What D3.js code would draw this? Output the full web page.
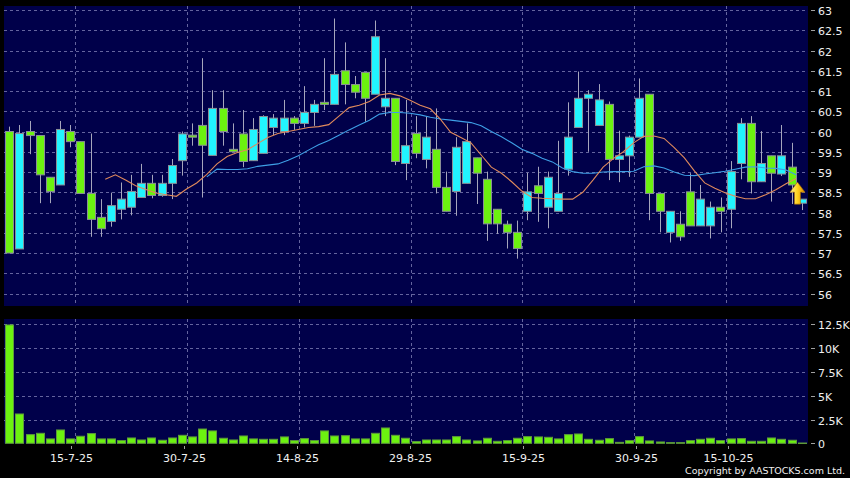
<!DOCTYPE html>
<html><head><meta charset="utf-8">
<script src="https://cdn.jsdelivr.net/npm/d3@7"></script>
<style>
html,body{margin:0;padding:0;background:#000;}
svg{display:block;}
text{font-family:"DejaVu Sans",Verdana,sans-serif;}
</style></head><body>
<svg id="c" width="850" height="478"></svg>
<script>
// ---------- DATA ----------
const dates = ["7-7-25","8-7-25","9-7-25","10-7-25","11-7-25","14-7-25","15-7-25","16-7-25","17-7-25","18-7-25",
"21-7-25","22-7-25","23-7-25","24-7-25","25-7-25","28-7-25","29-7-25","30-7-25","31-7-25","1-8-25",
"4-8-25","5-8-25","6-8-25","7-8-25","8-8-25","11-8-25","12-8-25","13-8-25","14-8-25","15-8-25",
"18-8-25","19-8-25","20-8-25","21-8-25","22-8-25","25-8-25","26-8-25","27-8-25","28-8-25","29-8-25",
"1-9-25","2-9-25","3-9-25","4-9-25","5-9-25","8-9-25","9-9-25","10-9-25","11-9-25","12-9-25",
"15-9-25","16-9-25","17-9-25","18-9-25","19-9-25","22-9-25","23-9-25","24-9-25","25-9-25","26-9-25",
"29-9-25","30-9-25","2-10-25","3-10-25","6-10-25","8-10-25","9-10-25","10-10-25","13-10-25","14-10-25",
"15-10-25","16-10-25","17-10-25","20-10-25","21-10-25","22-10-25","23-10-25","24-10-25","27-10-25"];

const openP  = [60.0,57.1,60.0,59.9,58.87,58.68,60.0,59.75,58.47,57.88,
57.78,58.08,58.13,58.37,58.72,58.42,58.72,59.28,59.91,60.15,
59.41,60.57,59.56,59.94,59.28,59.46,60.1,60.0,60.33,60.2,
60.47,60.72,60.67,61.5,61.16,61.46,60.92,60.61,60.82,59.21,
59.95,59.31,59.56,58.62,58.52,58.72,59.35,58.82,58.08,57.71,
57.51,58.03,58.66,58.13,58.03,59.07,60.1,60.82,60.15,60.67,
59.31,59.4,59.86,60.92,58.47,57.51,57.71,58.51,57.67,57.67,
58.13,58.08,59.21,60.2,58.76,59.4,58.95,59.12,58.23];
const highP  = [60.12,60.16,60.26,59.9,58.87,60.26,60.16,59.75,59.95,58.33,
58.49,58.74,58.93,59.2,58.93,58.93,59.32,60.0,60.2,61.81,
61.02,61.02,60.2,60.53,60.33,60.4,60.43,60.78,60.38,61.12,
60.78,61.81,62.79,62.2,61.37,61.46,62.74,61.81,60.82,60.78,
60.38,60.38,60.57,59.01,59.86,60.2,59.35,59.01,58.08,57.8,
57.8,58.98,59.13,59.01,59.77,60.72,61.48,61.02,61.17,60.74,
60.02,59.9,61.31,60.92,58.47,58.03,58.03,58.97,58.68,58.27,
58.37,59.27,60.33,60.38,60.01,59.4,60.16,59.72,58.33];
const lowP   = [57.0,57.1,59.44,58.23,58.23,58.68,59.61,58.47,57.4,57.4,
57.65,57.83,57.93,58.37,58.35,58.39,58.33,58.91,59.65,58.37,
59.41,59.65,59.5,59.12,59.28,59.46,59.91,59.91,60.04,60.1,
60.14,60.53,60.67,60.67,60.82,60.24,60.92,60.38,59.17,58.8,
59.34,59.09,58.47,58.03,57.92,58.72,58.21,57.3,57.47,57.11,
56.86,57.81,57.77,57.61,58.03,58.91,60.1,59.5,60.15,58.8,
58.75,58.88,59.86,57.81,57.51,57.26,57.3,57.67,57.67,57.36,
57.51,57.61,58.82,58.47,58.76,58.27,58.9,58.21,58.06];
const closeP = [57.0,59.95,59.9,58.93,58.52,60.05,59.75,58.47,57.83,57.6,
58.17,58.33,58.52,58.72,58.42,58.72,59.16,59.94,59.86,59.66,
60.57,60.0,59.5,59.26,60.05,60.37,60.33,60.33,60.2,60.47,
60.67,60.67,61.41,61.16,60.97,60.82,62.34,60.82,59.26,59.65,
59.46,59.86,58.62,58.03,59.61,59.75,58.97,57.72,57.72,57.51,
57.11,58.51,58.47,58.87,58.47,59.86,60.82,60.92,60.78,59.31,
59.4,59.86,60.82,58.47,58.03,58.03,57.4,57.67,58.33,58.13,
58.03,59.01,60.2,58.76,59.21,58.97,59.4,58.68,58.33];
const volume = [12430,3080,910,1050,460,1400,460,740,1020,460,
460,280,560,350,560,320,560,840,670,1500,
1300,530,350,770,460,420,420,670,280,490,
280,1300,770,800,460,460,1050,1610,840,530,
180,350,350,350,700,350,250,530,210,280,
530,700,670,630,460,910,980,420,320,490,
100,280,700,250,140,70,70,280,420,530,
280,460,490,210,210,560,420,320,30];
// 10-day average line (orange), first point at index 9
const ma10Start = 9;
const ma10 = [58.82,58.93,58.8,58.66,58.57,58.48,58.44,58.4,58.58,58.73,
58.94,59.2,59.38,59.48,59.55,59.7,59.85,59.95,60.0,60.05,
60.1,60.12,60.17,60.38,60.59,60.65,60.74,60.9,60.94,60.88,
60.77,60.65,60.56,60.3,59.98,59.85,59.72,59.42,59.12,58.97,
58.76,58.53,58.37,58.35,58.34,58.33,58.33,58.5,58.8,59.12,
59.33,59.5,59.72,59.88,59.89,59.83,59.6,59.35,59.02,58.73,
58.6,58.49,58.4,58.34,58.34,58.44,58.56,58.71,58.84];
// 20-day average line (blue), first point at index 19
const ma20Start = 19;
const ma20 = [58.88,59.07,59.06,59.06,59.08,59.14,59.17,59.2,59.29,59.4,
59.54,59.67,59.78,59.91,60.04,60.16,60.28,60.43,60.47,60.47,
60.45,60.41,60.35,60.31,60.28,60.25,60.22,60.14,60.0,59.87,
59.72,59.56,59.46,59.34,59.25,59.1,59.01,58.97,58.97,59.0,
59.01,59.01,59.02,59.13,59.15,59.1,59.0,58.92,58.91,58.95,
58.98,59.02,59.07,59.12,59.13,59.1,59.09,59.05,58.93];
const xTickLabels = ["15-7-25","30-7-25","14-8-25","29-8-25","15-9-25","30-9-25","15-10-25"];
const priceTickValues = [56,56.5,57,57.5,58,58.5,59,59.5,60,60.5,61,61.5,62,62.5,63];
const priceTickLabels = ["56","56.5","57","57.5","58","58.5","59","59.5","60","60.5","61","61.5","62","62.5","63"];
const volTickValues = [0,2500,5000,7500,10000,12500];
const volTickLabels = ["0","2.5K","5K","7.5K","10K","12.5K"];
const arrowMark = {index: 77, value: 58.75};

// ---------- LAYOUT ----------
const W = 850, H = 478;
const plotL = 4, plotR = 808;
const pTop = 6, pBot = 306;
const vTop = 319, vBot = 443.5;
const C = {
  bg:"#000000", panel:"#00004a", grid:"#64649e", text:"#f0f0f0", tick:"#a0a0a0",
  up:"#22f4ff", down:"#6cf210", candleStroke:"#8a8f96", wick:"#a6a6bc",
  vol:"#6cf210", volStroke:"#5e9a3a", ma10:"#e08a5c", ma20:"#3e9fe6"
};

const svg = d3.select("#c");
svg.append("rect").attr("width",W).attr("height",H).attr("fill",C.bg);

const idx = d3.range(dates.length);
const x = d3.scaleBand().domain(idx).range([4.2, 806.9]).paddingInner(0.2).paddingOuter(0.1);
const step = x.step();
const cx = i => x(i) + x.bandwidth()/2;
const xTick = d3.scaleLinear().domain([0, dates.length-1]).range([9.7, 810.0]);

const y = d3.scaleLinear().domain([56,63]).range([293.5,10]);
const yv = d3.scaleLinear().domain([0,12500]).range([443.3,324.3]);

// panels
svg.append("rect").attr("x",plotL).attr("y",pTop).attr("width",plotR-plotL).attr("height",pBot-pTop).attr("fill",C.panel);
svg.append("rect").attr("x",plotL).attr("y",vTop).attr("width",plotR-plotL).attr("height",vBot-vTop).attr("fill",C.panel);

const tickIdx = xTickLabels.map(l => dates.indexOf(l));
const gridX = i => cx(i) + step/2;

// grids
const g = svg.append("g").attr("stroke",C.grid).attr("stroke-width",1).attr("stroke-dasharray","3,3").attr("fill","none");
priceTickValues.forEach(v => {
  const yy = Math.round(y(v))+0.5;
  g.append("line").attr("x1",plotL).attr("x2",plotR).attr("y1",yy).attr("y2",yy);
});
volTickValues.slice(1).forEach(v => {
  const yy = Math.round(yv(v))+0.5;
  g.append("line").attr("x1",plotL).attr("x2",plotR).attr("y1",yy).attr("y2",yy);
});
tickIdx.forEach(i => {
  const xx = Math.round(gridX(i))+0.5;
  g.append("line").attr("x1",xx).attr("x2",xx).attr("y1",pTop).attr("y2",pBot);
  g.append("line").attr("x1",xx).attr("x2",xx).attr("y1",vTop).attr("y2",vBot);
});

// candles
const bw = x.bandwidth();
const cg = svg.append("g");
idx.forEach(i => {
  const up = closeP[i] >= openP[i];
  const xc = Math.round(cx(i))+0.5;
  cg.append("line").attr("x1",xc).attr("x2",xc).attr("y1",y(highP[i])).attr("y2",y(lowP[i]))
    .attr("stroke",C.wick).attr("stroke-width",1);
  const top = y(Math.max(openP[i],closeP[i])), bot = y(Math.min(openP[i],closeP[i]));
  cg.append("rect").attr("x",Math.round(x(i))+0.5).attr("y",top).attr("width",Math.round(bw))
    .attr("height",Math.max(1.5,bot-top))
    .attr("fill", up ? C.up : C.down).attr("stroke",C.candleStroke).attr("stroke-width",1);
});

// moving average lines
const lineOff = 4.5;
const line = d3.line().x(d => cx(d.i)+lineOff).y(d => y(d.v));
svg.append("path").datum(ma20.map((v,k)=>({i:k+ma20Start,v})))
  .attr("d",line).attr("fill","none").attr("stroke",C.ma20).attr("stroke-width",1.1);
svg.append("path").datum(ma10.map((v,k)=>({i:k+ma10Start,v})))
  .attr("d",line).attr("fill","none").attr("stroke",C.ma10).attr("stroke-width",1.1);

// arrow
const defs = svg.append("defs");
const grad = defs.append("linearGradient").attr("id","ag").attr("x1","0").attr("x2","1").attr("y1","0").attr("y2","0");
grad.append("stop").attr("offset","0").attr("stop-color","#fff59a");
grad.append("stop").attr("offset","0.5").attr("stop-color","#ffd21e");
grad.append("stop").attr("offset","1").attr("stop-color","#d98a00");
const ax = cx(arrowMark.index) + step*0.57, ay = y(arrowMark.value);
svg.append("path")
  .attr("d","M0,0 L7.5,10 L3,10 L3,22 L-3,22 L-3,10 L-7.5,10 Z")
  .attr("transform",`translate(${ax},${ay})`)
  .attr("fill","url(#ag)").attr("stroke","#a86a00").attr("stroke-width",0.6);

// volume bars
const vg = svg.append("g");
idx.forEach(i => {
  const t = yv(volume[i]);
  vg.append("rect").attr("x",Math.round(x(i))+0.5).attr("y",t).attr("width",Math.round(bw))
    .attr("height",Math.max(0.5,yv(0)-t)).attr("fill",C.vol).attr("stroke",C.volStroke).attr("stroke-width",1);
});

// right axes
const ra = svg.append("g");
priceTickValues.forEach((v,k) => {
  const yy = Math.round(y(v))+0.5;
  ra.append("line").attr("x1",811).attr("x2",815).attr("y1",yy).attr("y2",yy).attr("stroke",C.tick);
  ra.append("text").attr("x",818).attr("y",yy+4).attr("fill",C.text).attr("font-size",11).text(priceTickLabels[k]);
});
volTickValues.forEach((v,k) => {
  const yy = Math.round(yv(v))+0.5;
  ra.append("line").attr("x1",811).attr("x2",815).attr("y1",yy).attr("y2",yy).attr("stroke",C.tick);
  ra.append("text").attr("x",818).attr("y",yy+4).attr("fill",C.text).attr("font-size",11).text(volTickLabels[k]);
});

// bottom axis
const ba = svg.append("g");
tickIdx.forEach((i,k) => {
  const xx = Math.round(xTick(i))+0.5;
  ba.append("line").attr("x1",xx).attr("x2",xx).attr("y1",446).attr("y2",449).attr("stroke",C.tick);
  ba.append("text").attr("x",xx).attr("y",461.5).attr("text-anchor","middle").attr("fill",C.text)
    .attr("font-size",11).text(xTickLabels[k]);
});

svg.append("text").attr("x",845).attr("y",474).attr("text-anchor","end").attr("fill",C.text)
  .attr("font-size",9.5).text("Copyright by AASTOCKS.com Ltd.");
</script>
</body></html>
